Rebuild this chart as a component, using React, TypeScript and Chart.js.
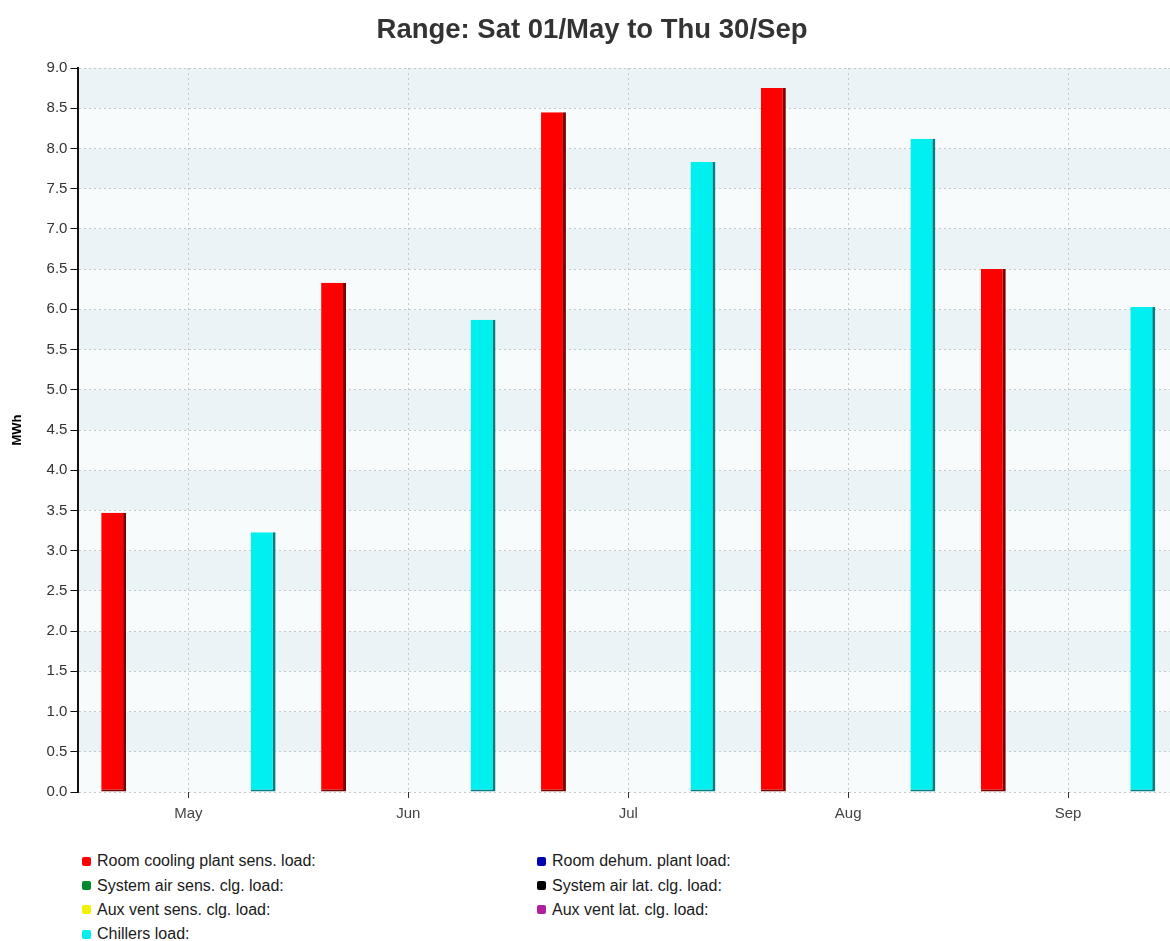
import React, { useEffect, useRef } from 'react';
import { Chart, registerables } from 'chart.js';

Chart.register(...registerables);

const TITLE = 'Range: Sat 01/May to Thu 30/Sep';
const Y_TITLE = 'MWh';
const months = ['May', 'Jun', 'Jul', 'Aug', 'Sep'];

const seriesNames = [
  'Room cooling plant sens. load:',
  'Room dehum. plant load:',
  'System air sens. clg. load:',
  'System air lat. clg. load:',
  'Aux vent sens. clg. load:',
  'Aux vent lat. clg. load:',
  'Chillers load:',
];
const seriesColors = ['#ff0000', '#0000b0', '#008a2e', '#000000', '#f2f200', '#b0209c', '#00f0f0'];
const seriesEdges = ['#7a0000', '#000060', '#004010', '#000000', '#808000', '#600050', '#007f84'];

const roomCoolingSens = [3.47, 6.33, 8.45, 8.75, 6.5];
const roomDehum = [0, 0, 0, 0, 0];
const systemAirSens = [0, 0, 0, 0, 0];
const systemAirLat = [0, 0, 0, 0, 0];
const auxVentSens = [0, 0, 0, 0, 0];
const auxVentLat = [0, 0, 0, 0, 0];
const chillersLoad = [3.23, 5.87, 7.83, 8.12, 6.03];

const seriesValues = [roomCoolingSens, roomDehum, systemAirSens, systemAirLat, auxVentSens, auxVentLat, chillersLoad];

const Y_MIN = 0;
const Y_MAX = 9;
const Y_STEP = 0.5;

const FONT = '"Liberation Sans", Arial, sans-serif';

const bandPlugin = {
  id: 'bands',
  beforeDraw(chart: any) {
    const { ctx, chartArea, scales } = chart;
    const y = scales.y;
    const ticks = y.ticks;
    ctx.save();
    for (let i = 0; i < ticks.length - 1; i++) {
      const top = y.getPixelForValue(ticks[i + 1].value);
      const bottom = y.getPixelForValue(ticks[i].value);
      ctx.fillStyle = (ticks.length - 2 - i) % 2 === 0 ? '#eaf4f7' : '#f8fbfc';
      ctx.fillRect(chartArea.left, top, chartArea.right - chartArea.left, bottom - top);
    }
    ctx.restore();
  },
};

export default function App() {
  const ref = useRef<HTMLCanvasElement>(null);

  useEffect(() => {
    document.body.style.margin = '0';
    const canvas = ref.current;
    if (!canvas) return;
    const chart = new Chart(canvas, {
      type: 'bar',
      data: {
        labels: months,
        datasets: seriesNames.map((name, i) => ({
          label: name,
          data: seriesValues[i],
          backgroundColor: seriesColors[i],
          borderColor: seriesEdges[i],
          borderWidth: seriesValues[i].some((v) => v > 0) ? { left: 0, top: 0, right: 3, bottom: 2 } : 0,
          borderSkipped: false,
          categoryPercentage: 0.793,
          barPercentage: 1.0,
        })),
      },
      options: {
        responsive: false,
        animation: false,
        devicePixelRatio: 1,
        layout: { padding: { left: 6, right: 2, top: 0, bottom: 0 } },
        plugins: {
          legend: { display: false },
          tooltip: { enabled: false },
          title: {
            display: true,
            text: TITLE,
            color: '#333333',
            font: { family: FONT, size: 27.5, weight: 'bold' },
            padding: { top: 14, bottom: 21 },
          },
        },
        scales: {
          x: {
            grid: {
              display: true,
              offset: false,
              color: '#c4c8ca',
              drawOnChartArea: true,
              drawTicks: true,
              tickLength: 6,
              tickColor: '#333333',
              tickBorderDash: [],
            },
            border: { display: false, dash: [2, 3] },
            ticks: {
              color: '#444444',
              font: { family: FONT, size: 15 },
              padding: 7,
            },
          },
          y: {
            min: Y_MIN,
            max: Y_MAX,
            ticks: {
              stepSize: Y_STEP,
              color: '#333333',
              font: { family: FONT, size: 15 },
              padding: 3,
              callback: (v: any) => Number(v).toFixed(1),
            },
            grid: {
              color: '#c4c8ca',
              tickLength: 8,
              tickColor: '#111111',
              tickBorderDash: [],
            },
            border: { display: true, color: '#111111', width: 2, dash: [2, 3] },
            title: {
              display: true,
              text: Y_TITLE,
              color: '#000000',
              font: { family: FONT, size: 13, weight: 'bold' },
              padding: { top: 4, bottom: 18 },
            },
          },
        },
      },
      plugins: [bandPlugin],
    });
    return () => chart.destroy();
  }, []);

  const rows: number[][] = [];
  for (let i = 0; i < seriesNames.length; i += 2) {
    rows.push([i, i + 1].filter((k) => k < seriesNames.length));
  }

  return (
    <div
      style={{
        position: 'relative',
        width: 1170,
        height: 941,
        overflow: 'hidden',
        background: '#ffffff',
        fontFamily: FONT,
      }}
    >
      <canvas ref={ref} width={1180} height={830} style={{ position: 'absolute', left: 0, top: 0 }} />
      <div style={{ position: 'absolute', left: 82, top: 849 }}>
        {rows.map((row, r) => (
          <div key={r} style={{ display: 'flex', height: 24.4, alignItems: 'center' }}>
            {row.map((k) => (
              <div key={k} style={{ width: 455, display: 'flex', alignItems: 'center' }}>
                <span
                  style={{
                    display: 'inline-block',
                    width: 9,
                    height: 9,
                    borderRadius: 2,
                    background: seriesColors[k],
                    marginRight: 6,
                  }}
                />
                <span style={{ fontSize: 16, color: '#1a1a1a' }}>{seriesNames[k]}</span>
              </div>
            ))}
          </div>
        ))}
      </div>
    </div>
  );
}
